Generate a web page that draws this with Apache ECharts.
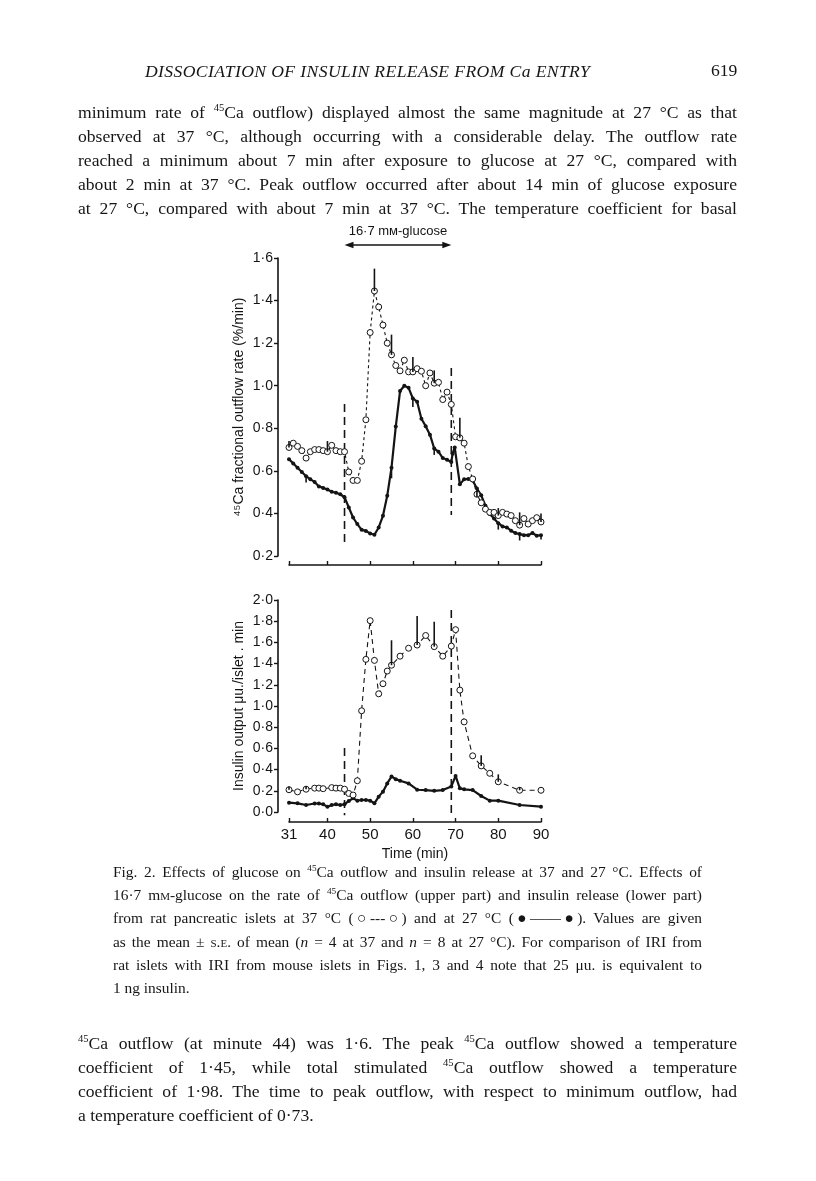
<!DOCTYPE html>
<html>
<head>
<meta charset="utf-8">
<script src="https://cdn.jsdelivr.net/npm/echarts@6/dist/echarts.min.js"></script>
<style>
  html, body { margin:0; padding:0; background:#fff; }
  body { width:816px; height:1181px; position:relative; overflow:hidden; }
  #chart { position:absolute; left:0; top:0; width:816px; height:1181px; }
  .txt { position:absolute; font-family:"Liberation Serif","DejaVu Serif",serif; color:#161616; }
  .ln { display:block; text-align:justify; text-align-last:justify; white-space:normal; }
  .ln.last { text-align-last:left; }
  .body { left:78px; width:659px; font-size:17.6px; line-height:24px; }
  .cap { left:113px; width:589px; font-size:15.4px; line-height:23.2px; }
  sup { font-size:0.6em; line-height:0; vertical-align:0.65em; }
  .sc { font-variant:small-caps; }
</style>
</head>
<body>
<div id="chart"></div>

<div class="txt" style="left:145px;top:61px;font-size:17.6px;font-style:italic;letter-spacing:0.4px;white-space:nowrap;">DISSOCIATION OF INSULIN RELEASE FROM Ca ENTRY</div>
<div class="txt" style="left:711px;top:60px;font-size:17.6px;">619</div>

<div class="txt body" style="top:100px;">
  <span class="ln">minimum rate of <sup>45</sup>Ca outflow) displayed almost the same magnitude at 27 °C as that</span>
  <span class="ln">observed at 37 °C, although occurring with a considerable delay. The outflow rate</span>
  <span class="ln">reached a minimum about 7 min after exposure to glucose at 27 °C, compared with</span>
  <span class="ln">about 2 min at 37 °C. Peak outflow occurred after about 14 min of glucose exposure</span>
  <span class="ln">at 27 °C, compared with about 7 min at 37 °C. The temperature coefficient for basal</span>
</div>

<div class="txt cap" style="top:860px;">
  <span class="ln">Fig. 2. Effects of glucose on <sup>45</sup>Ca outflow and insulin release at 37 and 27 °C. Effects of</span>
  <span class="ln">16·7 m<span class="sc">m</span>-glucose on the rate of <sup>45</sup>Ca outflow (upper part) and insulin release (lower part)</span>
  <span class="ln">from rat pancreatic islets at 37 °C (○---○) and at 27 °C (●——●). Values are given</span>
  <span class="ln">as the mean ± <span class="sc">s.e.</span> of mean (<i>n</i> = 4 at 37 and <i>n</i> = 8 at 27 °C). For comparison of IRI from</span>
  <span class="ln">rat islets with IRI from mouse islets in Figs. 1, 3 and 4 note that 25 μu. is equivalent to</span>
  <span class="ln last">1 ng insulin.</span>
</div>

<div class="txt body" style="top:1031px;">
  <span class="ln"><sup>45</sup>Ca outflow (at minute 44) was 1·6. The peak <sup>45</sup>Ca outflow showed a temperature</span>
  <span class="ln">coefficient of 1·45, while total stimulated <sup>45</sup>Ca outflow showed a temperature</span>
  <span class="ln">coefficient of 1·98. The time to peak outflow, with respect to minimum outflow, had</span>
  <span class="ln last">a temperature coefficient of 0·73.</span>
</div>

<script>
// ---------- DATA ----------
// Upper panel: 45Ca fractional outflow rate (%/min)
const caTime37 = [31,32,33,34,35,36,37,38,39,40,41,42,43,44,45,46,47,48,49,50,51,52,53,54,55,56,57,58,59,60,61,62,63,64,65,66,67,68,69,70,71,72,73,74,75,76,77,78,79,80,81,82,83,84,85,86,87,88,89,90];
const caVal37  = [0.71,0.73,0.715,0.695,0.66,0.69,0.70,0.70,0.695,0.69,0.72,0.695,0.69,0.69,0.595,0.555,0.555,0.645,0.84,1.25,1.445,1.37,1.285,1.20,1.145,1.095,1.07,1.12,1.065,1.065,1.08,1.068,1.0,1.06,1.012,1.016,0.935,0.97,0.912,0.76,0.755,0.73,0.62,0.562,0.49,0.45,0.42,0.405,0.405,0.39,0.405,0.397,0.39,0.366,0.345,0.376,0.35,0.366,0.38,0.36];
const caTime27 = [31,32,33,34,35,36,37,38,39,40,41,42,43,44,45,46,47,48,49,50,51,52,53,54,55,56,57,58,59,60,61,62,63,64,65,66,67,68,69,69.3,69.8,71,72,73,74,75,76,77,78,79,80,81,82,83,84,85,86,87,88,89,90];
const caVal27  = [0.655,0.635,0.615,0.595,0.575,0.56,0.548,0.527,0.52,0.512,0.502,0.497,0.49,0.476,0.428,0.381,0.35,0.323,0.318,0.306,0.30,0.334,0.389,0.483,0.615,0.808,0.975,1.0,0.99,0.94,0.925,0.845,0.81,0.77,0.705,0.69,0.66,0.652,0.642,0.68,0.71,0.537,0.56,0.562,0.555,0.517,0.485,0.436,0.397,0.376,0.354,0.339,0.334,0.319,0.308,0.303,0.298,0.298,0.308,0.295,0.298];
// error bars: [time, signed S.E.]
const caErr37 = [[31,0.03],[40,0.05],[51,0.105],[55,0.095],[60,0.07],[65,0.06],[71,0.095],[80,0.035],[85,0.06],[90,0.04]];
const caErr27 = [[35,-0.03],[55,-0.05],[60,-0.04],[65,-0.03],[75,-0.04],[80,-0.03],[85,-0.03],[90,-0.02]];

// Lower panel: insulin output (μu./islet . min)
const insTime37 = [31,33,35,37,38,39,41,42,43,44,45,46,47,48,49,50,51,52,53,54,55,57,59,61,63,65,67,69,70,71,72,74,76,78,80,85,90];
const insVal37  = [0.21,0.19,0.215,0.225,0.225,0.22,0.23,0.225,0.225,0.215,0.175,0.16,0.295,0.955,1.44,1.805,1.43,1.115,1.21,1.33,1.385,1.47,1.545,1.575,1.665,1.56,1.47,1.565,1.72,1.15,0.85,0.53,0.435,0.365,0.285,0.205,0.205];
const insTime27 = [31,33,35,37,38,39,40,41,42,43,44,45,46,47,48,49,50,51,52,53,54,55,56,57,59,61,63,65,67,69,70,71,72,74,76,78,80,85,90];
const insVal27  = [0.088,0.082,0.066,0.08,0.08,0.072,0.05,0.066,0.072,0.066,0.072,0.104,0.129,0.107,0.113,0.113,0.107,0.082,0.145,0.192,0.27,0.335,0.31,0.295,0.27,0.21,0.207,0.20,0.207,0.24,0.34,0.223,0.214,0.207,0.151,0.107,0.107,0.066,0.05];
const insErr37 = [[31,0.03],[35,0.03],[55,0.235],[61,0.275],[65,0.235],[76,0.10],[80,0.07],[85,0.03]];

// glucose period markers (min) and dashed line extents
const glucoseStart = 44, glucoseEnd = 69;
const caMarkStart = [0.914, 0.247], caMarkEnd = [1.083, 0.393];
const insMarkStart = [0.604, -0.03], insMarkEnd = [1.906, -0.03];
const arrowLevel = 1.661;
const arrowText = '16·7 mᴍ-glucose';

const xTicks = [31,40,50,60,70,80,90];
const caTicks = [0.2,0.4,0.6,0.8,1.0,1.2,1.4,1.6];
const insTicks = [0.0,0.2,0.4,0.6,0.8,1.0,1.2,1.4,1.6,1.8,2.0];

// ---------- BUILD ----------
const INK = '#141414';
const zip = (a,b) => a.map((v,i)=>[v,b[i]]);
function withBase(err, times, vals){
  return err.map(([t,e]) => [t, vals[times.indexOf(t)], e]);
}
const fmt = v => v.toFixed(1).replace('.', '·');
const sans = '"Liberation Sans","DejaVu Sans",Arial,sans-serif';

function xAxisFor(grid, showLabels, offset){
  return {
    type:'value', gridIndex:grid, min:31, max:90, offset:offset,
    axisLine:{show:true, onZero:false, lineStyle:{color:INK, width:1.6}},
    axisTick:{show:true, inside:true, length:4, customValues:xTicks, lineStyle:{color:INK, width:1.4}},
    axisLabel:{show:showLabels, customValues:xTicks, color:INK, fontFamily:sans, fontSize:15, margin:5},
    splitLine:{show:false},
    name: showLabels ? 'Time (min)' : '',
    nameLocation:'middle', nameGap:25,
    nameTextStyle:{color:INK, fontFamily:sans, fontSize:14}
  };
}
function yAxisFor(grid, min, max, ticks, name){
  return {
    type:'value', gridIndex:grid, min:min, max:max, offset:11,
    axisLine:{show:true, onZero:false, lineStyle:{color:INK, width:1.6}},
    axisTick:{show:true, inside:false, length:4, customValues:ticks, lineStyle:{color:INK, width:1.4}},
    axisLabel:{customValues:ticks, formatter:fmt, color:INK, fontFamily:sans, fontSize:14, margin:5},
    splitLine:{show:false},
    name:name, nameLocation:'middle', nameGap:32,
    nameTextStyle:{color:INK, fontFamily:sans, fontSize:14}
  };
}
function errSeries(xi, data){
  return {
    type:'custom', xAxisIndex:xi, yAxisIndex:xi, data:data, z:5, silent:true,
    renderItem:function(params, api){
      const x = api.value(0), y = api.value(1), e = api.value(2);
      const p0 = api.coord([x,y]), p1 = api.coord([x,y+e]);
      return {type:'line', shape:{x1:p0[0], y1:p0[1], x2:p1[0], y2:p1[1]}, style:{stroke:INK, lineWidth:1.6}};
    }
  };
}
function openSeries(xi, data, dash){
  return {type:'line', xAxisIndex:xi, yAxisIndex:xi, data:data, symbol:'circle', symbolSize:6,
    itemStyle:{color:'#fff', borderColor:INK, borderWidth:1}, lineStyle:{color:INK, width:1.1, type:dash}, z:4, silent:true};
}
function filledSeries(xi, data, size){
  return {type:'line', xAxisIndex:xi, yAxisIndex:xi, data:data, symbol:'circle', symbolSize:size,
    itemStyle:{color:INK}, lineStyle:{color:INK, width:2.2}, z:3, silent:true};
}
function vDash(xi, t, ext){
  return {type:'line', xAxisIndex:xi, yAxisIndex:xi, data:[[t,ext[0]],[t,ext[1]]], symbol:'none', clip:false,
    lineStyle:{color:INK, width:1.6, type:[8,5]}, z:2, silent:true};
}

const chart = echarts.init(document.getElementById('chart'), null, {renderer:'canvas'});

chart.setOption({
  animation:false,
  backgroundColor:'transparent',
  grid:[
    {left:289, top:258, width:252, height:298},
    {left:289, top:600, width:252, height:212}
  ],
  xAxis:[ xAxisFor(0,false,9), xAxisFor(1,true,10) ],
  yAxis:[
    yAxisFor(0,0.2,1.6,caTicks,'⁴⁵Ca fractional outflow rate (%/min)'),
    yAxisFor(1,0,2.0,insTicks,'Insulin output μu./islet . min')
  ],
  series:[
    vDash(0, glucoseStart, caMarkStart),
    vDash(0, glucoseEnd, caMarkEnd),
    vDash(1, glucoseStart, insMarkStart),
    vDash(1, glucoseEnd, insMarkEnd),
    filledSeries(0, zip(caTime27, caVal27), 4),
    openSeries(0, zip(caTime37, caVal37), [3,3]),
    errSeries(0, withBase(caErr37, caTime37, caVal37)),
    errSeries(0, withBase(caErr27, caTime27, caVal27)),
    filledSeries(1, zip(insTime27, insVal27), 4),
    openSeries(1, zip(insTime37, insVal37), [5,4]),
    errSeries(1, withBase(insErr37, insTime37, insVal37))
  ]
});

// glucose-period double arrow above the upper panel, placed through the panel's own scales
const pA = chart.convertToPixel({xAxisIndex:0, yAxisIndex:0}, [glucoseStart, arrowLevel]);
const pB = chart.convertToPixel({xAxisIndex:0, yAxisIndex:0}, [glucoseEnd, arrowLevel]);
const headL = 9, headW = 3.2;
chart.setOption({
  graphic:[
    {type:'line', shape:{x1:pA[0]+headL-1, y1:pA[1], x2:pB[0]-headL+1, y2:pB[1]}, style:{stroke:INK, lineWidth:1.5}, silent:true},
    {type:'polygon', shape:{points:[[pA[0],pA[1]],[pA[0]+headL,pA[1]-headW],[pA[0]+headL,pA[1]+headW]]}, style:{fill:INK}, silent:true},
    {type:'polygon', shape:{points:[[pB[0],pB[1]],[pB[0]-headL,pB[1]-headW],[pB[0]-headL,pB[1]+headW]]}, style:{fill:INK}, silent:true},
    {type:'text', x:(pA[0]+pB[0])/2, y:pA[1]-7, style:{text:arrowText, fill:INK, font:'13px "Liberation Sans","DejaVu Sans",sans-serif', align:'center', verticalAlign:'bottom'}, silent:true}
  ]
});
</script>
</body>
</html>
